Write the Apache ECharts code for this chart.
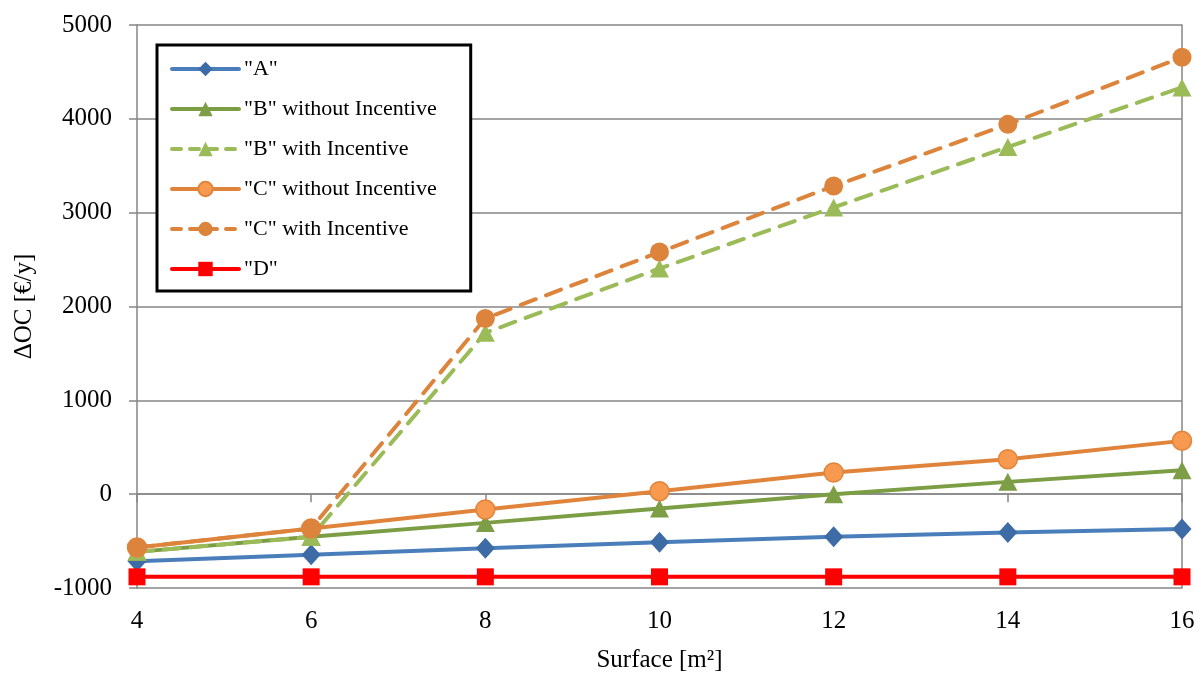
<!DOCTYPE html>
<html>
<head>
<meta charset="utf-8">
<script src="https://cdn.jsdelivr.net/npm/echarts@6/dist/echarts.min.js"></script>
<style>
html,body{margin:0;padding:0;background:#fff;}
#chart{width:1196px;height:674px;}
</style>
</head>
<body>
<div id="chart"></div>
<script>
const surface = [4, 6, 8, 10, 12, 14, 16];
const seriesNames = ['"A"', '"B" without Incentive', '"B" with Incentive', '"C" without Incentive', '"C" with Incentive', '"D"'];
const valuesA = [-715, -645, -576, -512, -455, -409, -370];
const valuesBwithout = [-615, -455, -306, -153, 0, 131, 256];
const valuesBwith = [-615, -455, 1720, 2405, 3056, 3700, 4335];
const valuesCwithout = [-568, -366, -163, 32, 231, 373, 568];
const valuesCwith = [-568, -366, 1873, 2580, 3284, 3941, 4656];
const valuesD = [-881, -881, -881, -881, -881, -881, -881];
const yTicks = {min: -1000, max: 5000, interval: 1000};
const xTicks = {min: 4, max: 16, interval: 2};

const font = '"Liberation Serif", "Times New Roman", serif';
function pairs(vals){ return surface.map((x,i)=>[x, vals[i]]); }

const styles = [
  {color: '#4a7ebb', marker: '#3d6ba5', border: null, symbol: 'diamond', size: [19, 21], dashed: false},
  {color: '#7b9d44', marker: '#7d9e47', border: null, symbol: 'triangle', size: [19, 18], dashed: false},
  {color: '#9bbb59', marker: '#9bbb59', border: null, symbol: 'triangle', size: [19, 18], dashed: true},
  {color: '#e0843c', marker: '#f79a4f', border: '#e0843c', symbol: 'circle', size: 19, dashed: false},
  {color: '#dc843c', marker: '#dc843c', border: null, symbol: 'circle', size: 19, dashed: true},
  {color: '#ff0000', marker: '#ff0000', border: null, symbol: 'rect', size: 17, dashed: false}
];
const allValues = [valuesA, valuesBwithout, valuesBwith, valuesCwithout, valuesCwith, valuesD];

function lineStyleOf(s){ return {color: s.color, width: 4, type: s.dashed ? [16, 11] : 'solid', cap: 'round'}; }

const series = seriesNames.map((name, i) => {
  const s = styles[i];
  return {
    name: name, type: 'line', data: pairs(allValues[i]), xAxisIndex: 0, yAxisIndex: 0,
    symbol: s.symbol, symbolSize: s.size,
    lineStyle: lineStyleOf(s),
    itemStyle: {color: s.marker, borderColor: s.border || s.marker, borderWidth: s.border ? 1.5 : 0},
    emphasis: {disabled: true}, animation: false, z: 3
  };
});

const legendData = seriesNames.map((name, i) => ({
  name: name,
  lineStyle: {width: 4, type: styles[i].dashed ? [9, 9] : 'solid', cap: 'round', color: styles[i].color}
}));

const chart = echarts.init(document.getElementById('chart'));
chart.setOption({
  backgroundColor: '#fff',
  animation: false,
  grid: {left: 137, right: 14, top: 25, bottom: 86, containLabel: false, outerBoundsMode: 'none'},
  legend: {
    orient: 'vertical', left: 157, top: 45,
    backgroundColor: '#fff', borderColor: '#000', borderWidth: 3,
    padding: [13, 34, 11, 13],
    itemWidth: 67, itemHeight: 18, itemGap: 18,
    textStyle: {fontFamily: font, fontSize: 22, color: '#000'},
    data: legendData
  },
  xAxis: [{
    type: 'value', min: xTicks.min, max: xTicks.max, interval: xTicks.interval,
    axisLine: {show: true, onZero: true, lineStyle: {color: '#868686', width: 1.5}},
    axisTick: {show: true, inside: false, length: 8, lineStyle: {color: '#868686', width: 1.5}},
    axisLabel: {show: false},
    splitLine: {show: false}
  }, {
    type: 'value', position: 'bottom', min: xTicks.min, max: xTicks.max, interval: xTicks.interval,
    axisLine: {show: false, onZero: false}, axisTick: {show: false}, splitLine: {show: false},
    axisLabel: {show: true, margin: 21, fontFamily: font, fontSize: 25, color: '#000'},
    name: 'Surface [m²]', nameLocation: 'middle', nameGap: 60,
    nameTextStyle: {fontFamily: font, fontSize: 25, color: '#000'}
  }],
  yAxis: [{
    type: 'value', min: yTicks.min, max: yTicks.max, interval: yTicks.interval,
    axisLine: {show: true, lineStyle: {color: '#868686', width: 1.5}},
    axisTick: {show: true, length: 8, lineStyle: {color: '#868686', width: 1.5}},
    axisLabel: {margin: 25, fontFamily: font, fontSize: 25, color: '#000', formatter: v => String(v)},
    splitLine: {show: true, lineStyle: {color: '#868686', width: 1.5}},
    name: 'ΔOC [€/y]', nameLocation: 'middle', nameGap: 100, nameRotate: 90,
    nameTextStyle: {fontFamily: font, fontSize: 25, color: '#000'}
  }, {
    type: 'value', position: 'right', min: yTicks.min, max: yTicks.max, interval: yTicks.interval,
    axisLine: {show: true, lineStyle: {color: '#868686', width: 1.5}},
    axisTick: {show: false}, axisLabel: {show: false}, splitLine: {show: false}
  }],
  series: series
});
</script>
</body>
</html>
